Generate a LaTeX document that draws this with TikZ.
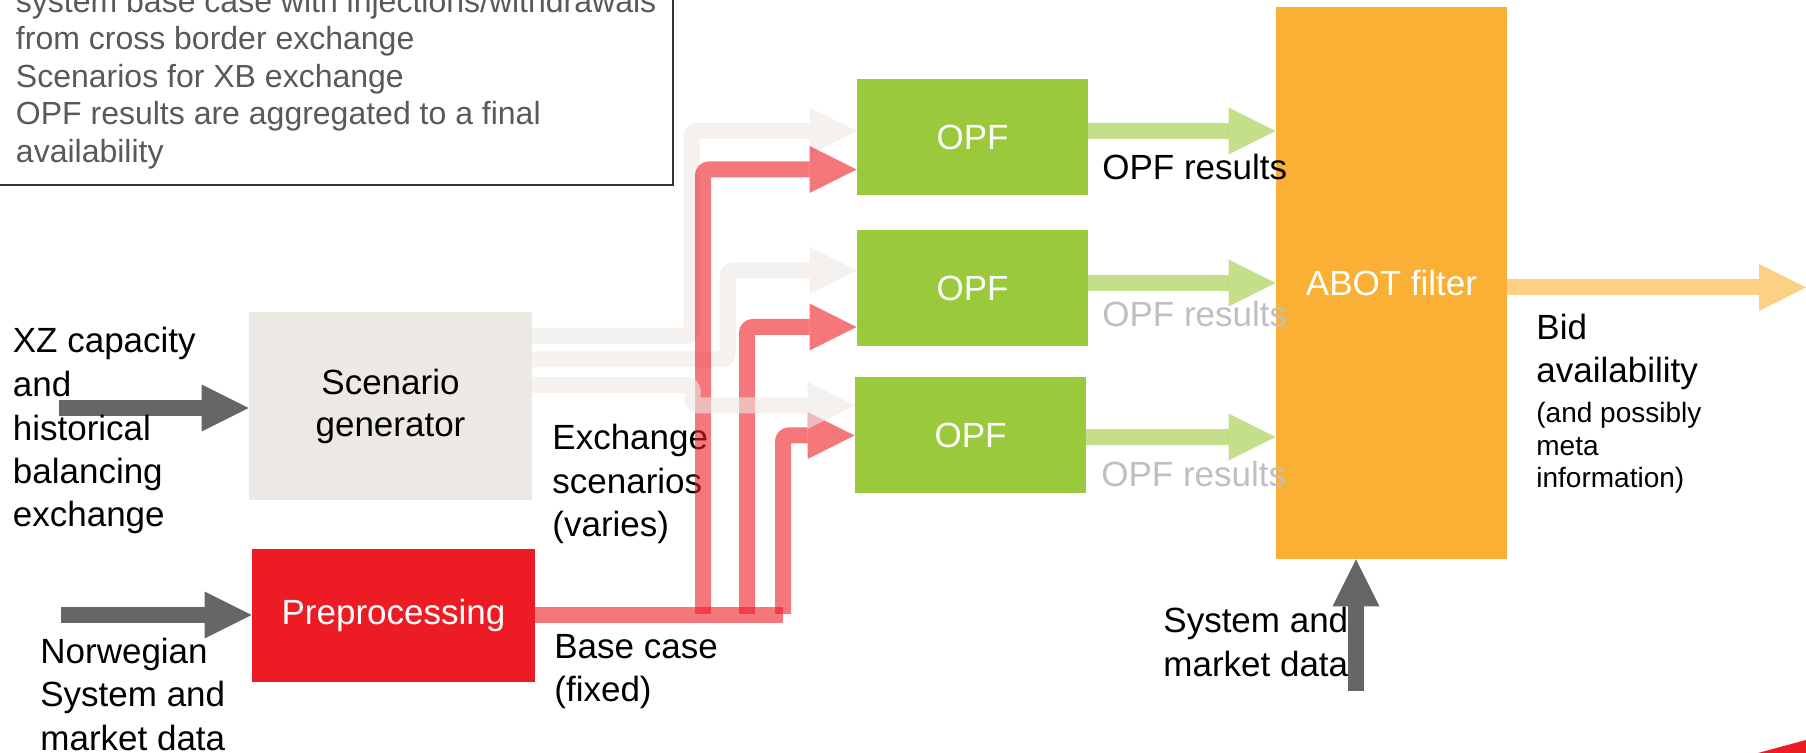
\documentclass[tikz,border=0pt]{standalone}
\usepackage{fontspec}
\setmainfont{Liberation Sans}
\usetikzlibrary{arrows.meta, positioning, calc}

\definecolor{scengray}{RGB}{236,232,228}
\definecolor{prepred}{RGB}{237,28,36}
\definecolor{opfgreen}{RGB}{155,201,60}
\definecolor{abotorange}{RGB}{250,176,52}
\definecolor{ingray}{RGB}{102,102,102}
\definecolor{notegray}{RGB}{89,89,89}
\definecolor{fadegray}{RGB}{191,191,191}

\begin{document}
\begin{tikzpicture}[x=0.5pt, y=-0.5pt,
    box/.style={rectangle, inner sep=0pt, align=center, font=\fontsize{17.5}{21}\selectfont},
    lbl/.style={anchor=base west, inner sep=0pt, align=left, font=\fontsize{17.5}{21.75}\selectfont},
    bigtip/.style={-{Triangle[length=23.5pt, width=23.5pt, line width=0pt]}},
    fat/.style={line width=8pt, draw=#1, bigtip},
    flow/.style={line width=8pt, draw=#1, opacity=0.6, rounded corners=3pt}]
    \useasboundingbox (0,0) rectangle (1806,753);
    \clip (0,0) rectangle (1806,753);

    % Notes box (top left), anchored at its last line
    \draw[black!80, line width=1pt] (-10,-60) rectangle (673,185);
    \node[anchor=base west, inner sep=0pt, align=left, text=notegray,
          font=\fontsize{16}{18.75}\selectfont] (notes) at (15.6,162.5)
        {system base case with injections/withdrawals\\
         from cross border exchange\\
         Scenarios for XB exchange\\
         OPF results are aggregated to a final\\
         availability};

    % Scenario generator and preprocessing
    \node[box, fill=scengray, minimum width=141.5pt, minimum height=94pt] (scen) at (390.5,406) {Scenario\\generator};
    \node[box, fill=prepred, text=white, minimum width=141.5pt, minimum height=66.5pt] (prep) at (393.5,615.5) {Preprocessing};

    % OPF runs
    \node[box, fill=opfgreen, text=white, minimum width=115.5pt, minimum height=58pt] (opf1) at (972.5,137) {OPF};
    \node[box, fill=opfgreen, text=white, minimum width=115.5pt, minimum height=58pt] (opf2) at (972.5,288) {OPF};
    \node[box, fill=opfgreen, text=white, minimum width=115.5pt, minimum height=58pt] (opf3) at (970.5,435) {OPF};

    % ABOT filter
    \node[box, fill=abotorange, text=white, minimum width=115.5pt, minimum height=276pt] (abot) at (1391.5,283) {ABOT filter};

    % Inputs
    \coordinate (xzin) at (59,408);
    \coordinate (nosin) at (61,615);
    \coordinate (sysin) at (1356,691);
    \draw[fat=ingray] (xzin) -- (xzin -| scen.west);
    \draw[fat=ingray] (nosin) -- (nosin -| prep.west);
    \draw[fat=ingray] (sysin) -- (sysin |- abot.south);

    % Labels (placed at the baseline of their last line)
    \node[lbl] (xzlbl) at (12.5,527) {XZ capacity\\and\\historical\\balancing\\exchange};
    \node[lbl] (norlbl) at (40,750) {Norwegian\\System and\\market data};
    \node[lbl] (exlbl) at (552,537) {Exchange\\scenarios\\(varies)};
    \node[lbl] (bclbl) at (554,702) {Base case\\(fixed)};
    \node[lbl] (res1) at (1102,180) {OPF results};
    \node[lbl, text=fadegray] (res2) at (1102,327) {OPF results};
    \node[lbl, text=fadegray] (res3) at (1101,487) {OPF results};
    \node[lbl] (bidlbl) at (1536,383) {Bid\\availability};
    \node[lbl, font=\fontsize{14}{16.25}\selectfont] (bidnote) at (1536,488) {(and possibly\\meta\\information)};
    \node[lbl] (syslbl) at (1163,676) {System and\\market data};

    % Exchange scenarios
    \draw[flow=scengray, bigtip] ($(scen.east)+(0,-70)$) -| ($(opf1.west)+(-165,-6)$) -- ($(opf1.west)+(0,-6)$);
    \draw[flow=scengray, bigtip] ($(scen.east)+(0,-46.5)$) -| ($(opf2.west)+(-129,-17.5)$) -- ($(opf2.west)+(0,-17.5)$);

    % Base case
    \coordinate (bc1) at (703,614);
    \coordinate (bc2) at (747,614);
    \coordinate (bc3) at (783,614);
    \draw[flow=prepred] (prep.east) -- (prep.east -| bc3);
    \draw[flow=prepred, bigtip] (bc1) |- ($(opf1.west)+(0,32.5)$);
    \draw[flow=prepred, bigtip] (bc2) |- ($(opf2.west)+(0,39)$);
    \draw[flow=prepred, bigtip] (bc3) |- ($(opf3.west)+(0,0.5)$);

    \draw[flow=scengray, bigtip] ($(scen.east)+(0,-21)$) -| ($(opf3.west)+(-162,-29.5)$) -- ($(opf3.west)+(0,-29.5)$);

    % OPF results
    \draw[flow=opfgreen, bigtip] ($(opf1.east)+(0,-6)$) -- ($(opf1.east -| abot.west)+(0,-6)$);
    \draw[flow=opfgreen, bigtip] ($(opf2.east)+(0,-5)$) -- ($(opf2.east -| abot.west)+(0,-5)$);
    \draw[flow=opfgreen, bigtip] ($(opf3.east)+(0,2)$) -- ($(opf3.east -| abot.west)+(0,2)$);

    % Bid availability
    \coordinate (bidout) at (1806,287.5);
    \draw[flow=abotorange, bigtip] (abot.east |- bidout) -- (bidout);

    % corner mark
    \fill[prepred] (1758,753) -- (1806,740) -- (1806,753) -- cycle;
\end{tikzpicture}
\end{document}
